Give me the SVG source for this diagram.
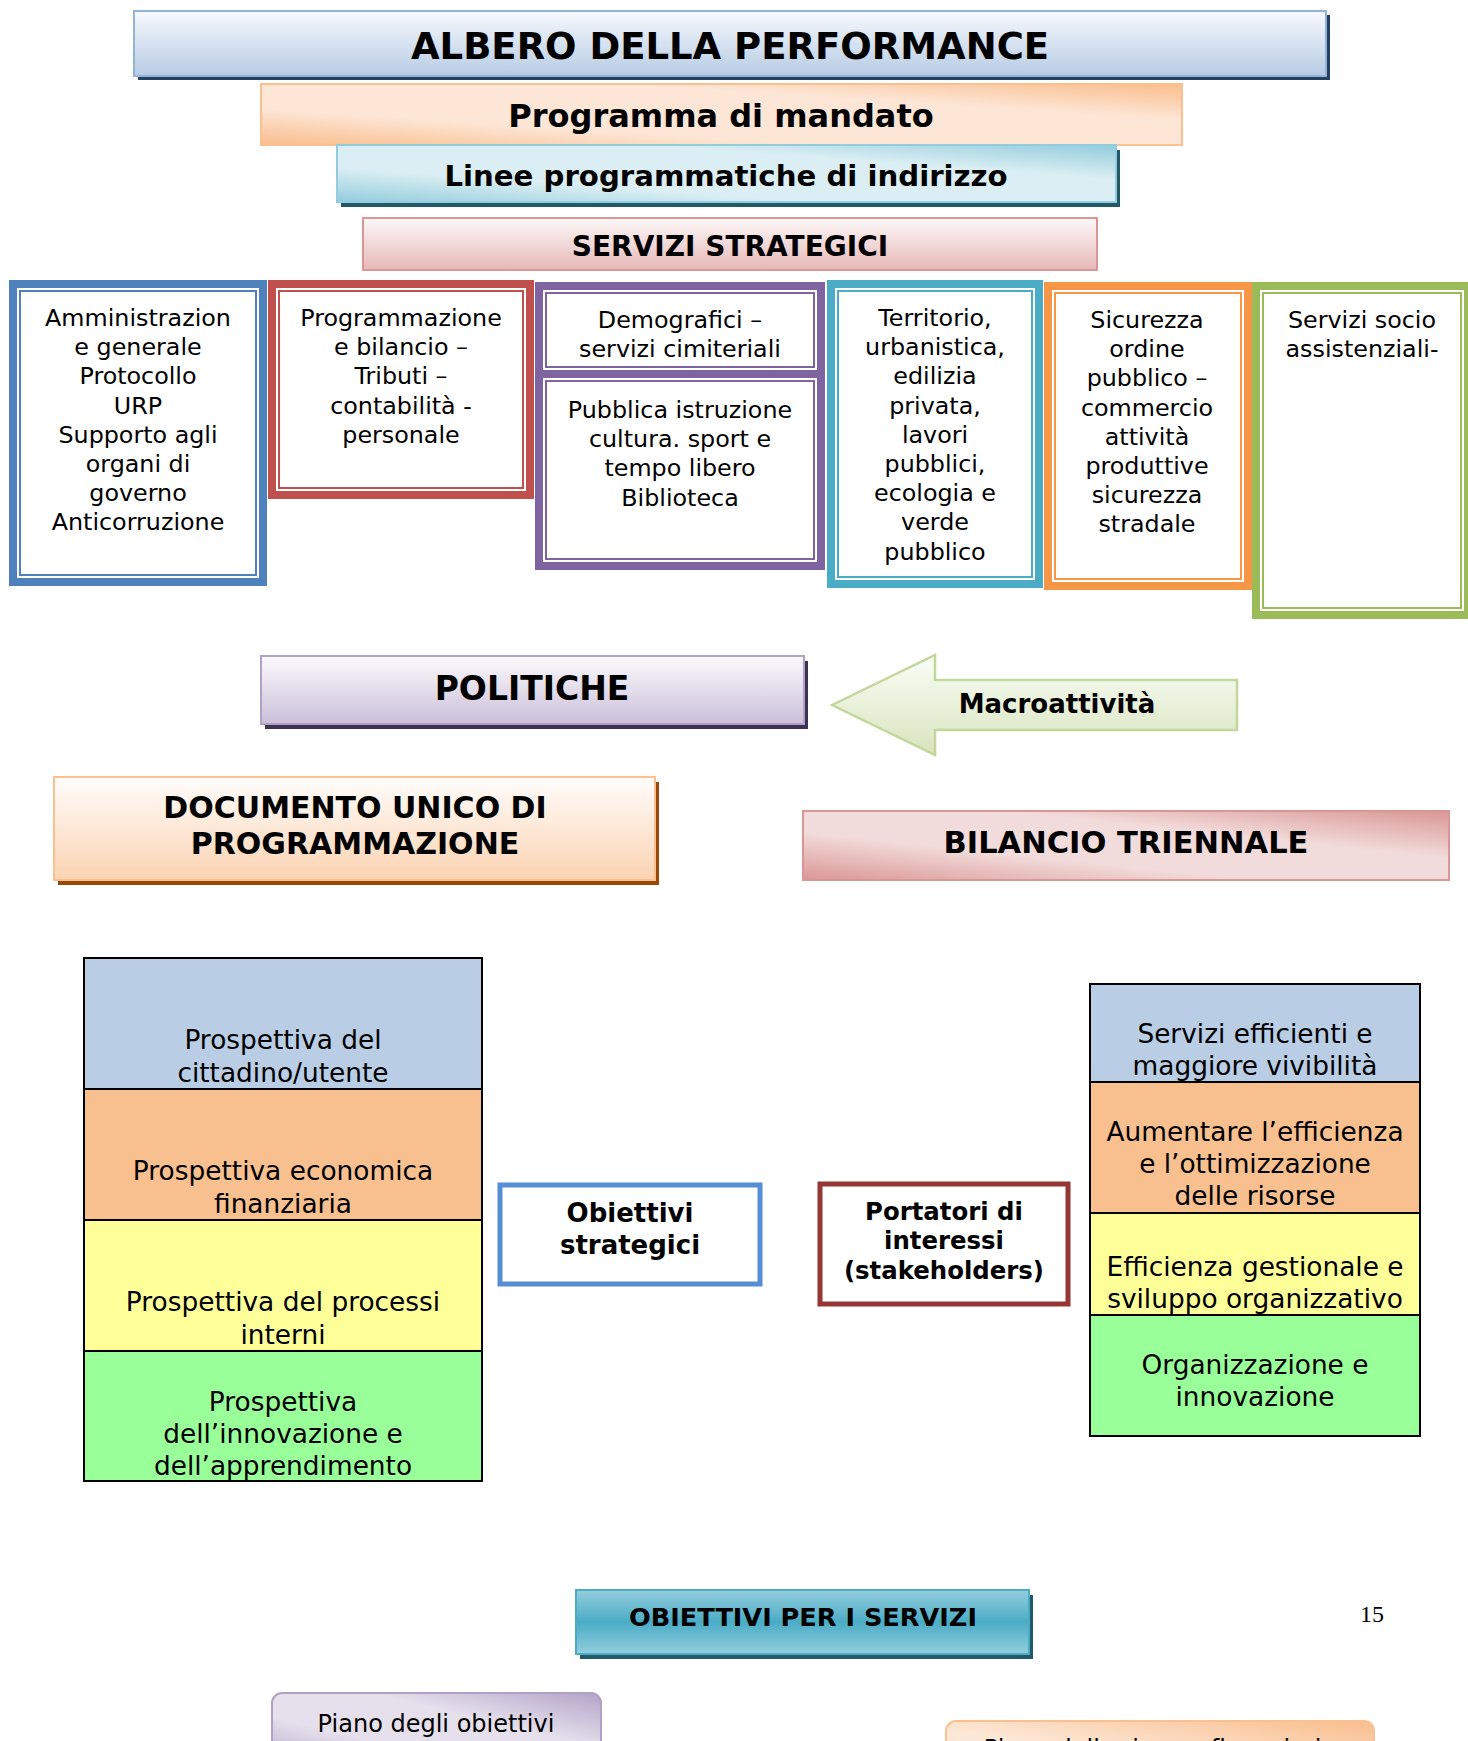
<svg xmlns="http://www.w3.org/2000/svg" width="1468" height="1741" viewBox="0 0 1468 1741">
<defs>
  <linearGradient id="gTitle" x1="0" y1="0" x2="0" y2="1">
    <stop offset="0" stop-color="#f7f9fd"/><stop offset="1" stop-color="#b7cbe4"/>
  </linearGradient>
  <linearGradient id="gProg" x1="0" y1="1" x2="1" y2="0">
    <stop offset="0" stop-color="#f9bd8c"/><stop offset="0.3" stop-color="#fde6d6"/><stop offset="0.7" stop-color="#fde6d6"/><stop offset="1" stop-color="#f9bd8c"/>
  </linearGradient>
  <linearGradient id="gLinee" x1="0" y1="1" x2="1" y2="0">
    <stop offset="0" stop-color="#92ccdc"/><stop offset="0.3" stop-color="#daeef3"/><stop offset="0.7" stop-color="#daeef3"/><stop offset="1" stop-color="#92ccdc"/>
  </linearGradient>
  <linearGradient id="gServ" x1="0" y1="0" x2="0" y2="1">
    <stop offset="0" stop-color="#fdf8f8"/><stop offset="1" stop-color="#e5b8b7"/>
  </linearGradient>
  <linearGradient id="gPol" x1="0" y1="0" x2="0" y2="1">
    <stop offset="0" stop-color="#fbfafd"/><stop offset="1" stop-color="#cbbfd9"/>
  </linearGradient>
  <linearGradient id="gArrow" x1="0" y1="0" x2="0" y2="1">
    <stop offset="0" stop-color="#fbfdf7"/><stop offset="1" stop-color="#d7e4bd"/>
  </linearGradient>
  <linearGradient id="gDoc" x1="0" y1="0" x2="0" y2="1">
    <stop offset="0" stop-color="#fffdfb"/><stop offset="1" stop-color="#fbd3b2"/>
  </linearGradient>
  <linearGradient id="gBil" x1="0" y1="1" x2="1" y2="0">
    <stop offset="0" stop-color="#d99694"/><stop offset="0.35" stop-color="#f2dcdb"/><stop offset="0.65" stop-color="#f2dcdb"/><stop offset="1" stop-color="#d99694"/>
  </linearGradient>
  <linearGradient id="gObs" x1="0" y1="0" x2="0" y2="1">
    <stop offset="0" stop-color="#93cddd"/><stop offset="0.5" stop-color="#4bacc6"/><stop offset="1" stop-color="#93cddd"/>
  </linearGradient>
  <linearGradient id="gPiano" x1="0" y1="1" x2="1" y2="0">
    <stop offset="0" stop-color="#b3a2c7"/><stop offset="0.35" stop-color="#e5e0ec"/><stop offset="0.65" stop-color="#e5e0ec"/><stop offset="1" stop-color="#b3a2c7"/>
  </linearGradient>
  <linearGradient id="gRis" x1="0" y1="1" x2="1" y2="0">
    <stop offset="0" stop-color="#fbd3b2"/><stop offset="0.4" stop-color="#fde9d9"/><stop offset="1" stop-color="#f9bd8c"/>
  </linearGradient>
</defs>
<style>
  .t{font-family:"DejaVu Sans",Verdana,"Liberation Sans",sans-serif;fill:#000;text-anchor:middle}
  .b{font-weight:bold}
  .svc{font-size:23.8px}
  .stk{font-size:26.4px}
  .ob{fill:#fff;stroke-width:8}
  .ib{fill:none;stroke-width:2}
  .band{stroke:#000;stroke-width:2}
</style>
<rect x="0" y="0" width="1468" height="1741" fill="#fff"/>

<g id="title">
  <rect x="138" y="15" width="1192" height="65" fill="#244062"/>
  <rect x="134" y="11" width="1192" height="65" fill="url(#gTitle)" stroke="#95b3d7" stroke-width="2"/>
  <text class="t b" x="730" y="59" font-size="37">ALBERO DELLA PERFORMANCE</text>
</g>
<g id="programma">
  <rect x="261" y="84" width="921" height="61" fill="url(#gProg)" stroke="#fac090" stroke-width="2"/>
  <text class="t b" x="721" y="127" font-size="32">Programma di mandato</text>
</g>
<g id="linee">
  <rect x="341" y="150" width="779" height="57" fill="#215968"/>
  <rect x="337" y="145" width="779" height="57" fill="url(#gLinee)" stroke="#93cddd" stroke-width="2"/>
  <text class="t b" x="726" y="186" font-size="29.2">Linee programmatiche di indirizzo</text>
</g>
<g id="servizi-strategici">
  <rect x="363" y="218" width="734" height="52" fill="url(#gServ)" stroke="#d99694" stroke-width="2"/>
  <text class="t b" x="730" y="256" font-size="28">SERVIZI STRATEGICI</text>
</g>

<g id="svc-amministrazione">
  <rect class="ob" x="13" y="284" width="250" height="298" stroke="#4f81bd"/>
  <rect class="ib" x="20" y="291" width="236" height="284" stroke="#4f81bd"/>
  <text class="t svc" x="138" y="326">Amministrazion<tspan x="138" dy="29.2">e generale</tspan><tspan x="138" dy="29.2">Protocollo</tspan><tspan x="138" dy="29.2">URP</tspan><tspan x="138" dy="29.2">Supporto agli</tspan><tspan x="138" dy="29.2">organi di</tspan><tspan x="138" dy="29.2">governo</tspan><tspan x="138" dy="29.2">Anticorruzione</tspan></text>
</g>
<g id="svc-programmazione">
  <rect class="ob" x="272" y="284" width="258" height="211" stroke="#c0504d"/>
  <rect class="ib" x="279" y="291" width="244" height="197" stroke="#c0504d"/>
  <text class="t svc" x="401" y="326">Programmazione<tspan x="401" dy="29.2">e bilancio –</tspan><tspan x="401" dy="29.2">Tributi –</tspan><tspan x="401" dy="29.2">contabilità -</tspan><tspan x="401" dy="29.2">personale</tspan></text>
</g>
<g id="svc-istruzione">
  <rect class="ob" x="539" y="374" width="282" height="192" stroke="#8064a2"/>
  <rect class="ib" x="546" y="381" width="268" height="178" stroke="#8064a2"/>
  <text class="t svc" x="680" y="418">Pubblica istruzione<tspan x="680" dy="29.2">cultura. sport e</tspan><tspan x="680" dy="29.2">tempo libero</tspan><tspan x="680" dy="29.2">Biblioteca</tspan></text>
</g>
<g id="svc-demografici">
  <rect class="ob" x="539" y="286" width="282" height="88" stroke="#8064a2"/>
  <rect class="ib" x="546" y="293" width="268" height="74" stroke="#8064a2"/>
  <text class="t svc" x="680" y="328">Demografici –<tspan x="680" dy="29.2">servizi cimiteriali</tspan></text>
</g>
<g id="svc-territorio">
  <rect class="ob" x="831" y="284" width="208" height="300" stroke="#4bacc6"/>
  <rect class="ib" x="838" y="291" width="194" height="286" stroke="#4bacc6"/>
  <text class="t svc" x="935" y="326">Territorio,<tspan x="935" dy="29.2">urbanistica,</tspan><tspan x="935" dy="29.2">edilizia</tspan><tspan x="935" dy="29.2">privata,</tspan><tspan x="935" dy="29.2">lavori</tspan><tspan x="935" dy="29.2">pubblici,</tspan><tspan x="935" dy="29.2">ecologia e</tspan><tspan x="935" dy="29.2">verde</tspan><tspan x="935" dy="29.2">pubblico</tspan></text>
</g>
<g id="svc-sicurezza">
  <rect class="ob" x="1048" y="286" width="200" height="300" stroke="#f79646"/>
  <rect class="ib" x="1055" y="293" width="186" height="286" stroke="#f79646"/>
  <text class="t svc" x="1147" y="328">Sicurezza<tspan x="1147" dy="29.2">ordine</tspan><tspan x="1147" dy="29.2">pubblico –</tspan><tspan x="1147" dy="29.2">commercio</tspan><tspan x="1147" dy="29.2">attività</tspan><tspan x="1147" dy="29.2">produttive</tspan><tspan x="1147" dy="29.2">sicurezza</tspan><tspan x="1147" dy="29.2">stradale</tspan></text>
</g>
<g id="svc-sociali">
  <rect class="ob" x="1256" y="286" width="212" height="329" stroke="#9bbb59"/>
  <rect class="ib" x="1263" y="293" width="198" height="315" stroke="#9bbb59"/>
  <text class="t svc" x="1362" y="328">Servizi socio<tspan x="1362" dy="29.2">assistenziali-</tspan></text>
</g>

<g id="politiche">
  <rect x="265" y="661" width="543" height="68" fill="#3f3151"/>
  <rect x="261" y="656" width="543" height="68" fill="url(#gPol)" stroke="#b2a1c7" stroke-width="2"/>
  <text class="t b" x="532" y="700" font-size="33">POLITICHE</text>
</g>
<g id="macroattivita">
  <polygon points="832,705 935,655 935,680 1237,680 1237,730 935,730 935,755" fill="url(#gArrow)" stroke="#c3d69b" stroke-width="2.5"/>
  <text class="t b" x="1057" y="713" font-size="26">Macroattività</text>
</g>
<g id="dup">
  <rect x="58" y="782" width="601" height="103" fill="#984807"/>
  <rect x="54" y="777" width="601" height="103" fill="url(#gDoc)" stroke="#fac090" stroke-width="2"/>
  <text class="t b" x="355" y="818" font-size="30">DOCUMENTO UNICO DI<tspan x="355" dy="36">PROGRAMMAZIONE</tspan></text>
</g>
<g id="bilancio">
  <rect x="803" y="811" width="646" height="69" fill="url(#gBil)" stroke="#d99694" stroke-width="2"/>
  <text class="t b" x="1126" y="853" font-size="30.5">BILANCIO TRIENNALE</text>
</g>

<g id="prospettive">
  <rect class="band" x="84" y="958" width="398" height="131" fill="#b9cde5"/>
  <rect class="band" x="84" y="1089" width="398" height="131" fill="#f8bf8f"/>
  <rect class="band" x="84" y="1220" width="398" height="131" fill="#ffff99"/>
  <rect class="band" x="84" y="1351" width="398" height="130" fill="#99ff99"/>
  <text class="t stk" x="283" y="1049">Prospettiva del<tspan x="283" dy="33">cittadino/utente</tspan></text>
  <text class="t stk" x="283" y="1180">Prospettiva economica<tspan x="283" dy="33">finanziaria</tspan></text>
  <text class="t stk" x="283" y="1311">Prospettiva del processi<tspan x="283" dy="33">interni</tspan></text>
  <text class="t stk" x="283" y="1411">Prospettiva<tspan x="283" dy="32">dell’innovazione e</tspan><tspan x="283" dy="32">dell’apprendimento</tspan></text>
</g>
<g id="obiettivi-strategici">
  <rect x="500" y="1185" width="260" height="99" fill="#fff" stroke="#558ed5" stroke-width="5"/>
  <text class="t b" x="630" y="1222" font-size="26">Obiettivi<tspan x="630" dy="32">strategici</tspan></text>
</g>
<g id="portatori">
  <rect x="820" y="1184" width="248" height="120" fill="#fff" stroke="#953735" stroke-width="5"/>
  <text class="t b" x="944" y="1220" font-size="24.4">Portatori di<tspan x="944" dy="29">interessi</tspan><tspan x="944" dy="30">(stakeholders)</tspan></text>
</g>
<g id="obiettivi-aree">
  <rect class="band" x="1090" y="984" width="330" height="98" fill="#b9cde5"/>
  <rect class="band" x="1090" y="1082" width="330" height="131" fill="#f8bf8f"/>
  <rect class="band" x="1090" y="1213" width="330" height="102" fill="#ffff99"/>
  <rect class="band" x="1090" y="1315" width="330" height="121" fill="#99ff99"/>
  <text class="t stk" x="1255" y="1043">Servizi efficienti e<tspan x="1255" dy="32">maggiore vivibilità</tspan></text>
  <text class="t stk" x="1255" y="1141">Aumentare l’efficienza<tspan x="1255" dy="32">e l’ottimizzazione</tspan><tspan x="1255" dy="32">delle risorse</tspan></text>
  <text class="t stk" x="1255" y="1276">Efficienza gestionale e<tspan x="1255" dy="32">sviluppo organizzativo</tspan></text>
  <text class="t stk" x="1255" y="1374">Organizzazione e<tspan x="1255" dy="32">innovazione</tspan></text>
</g>

<g id="obiettivi-servizi">
  <rect x="580" y="1595" width="453" height="64" fill="#215968"/>
  <rect x="576" y="1590" width="453" height="64" fill="url(#gObs)" stroke="#4bacc6" stroke-width="2"/>
  <text class="t b" x="803" y="1626" font-size="25.6">OBIETTIVI PER I SERVIZI</text>
</g>
<text x="1372" y="1622" font-family="'Liberation Serif','Times New Roman',serif" font-size="24" text-anchor="middle" fill="#000">15</text>

<g id="piano-obiettivi">
  <rect x="272" y="1693" width="329" height="80" rx="10" fill="url(#gPiano)" stroke="#b2a1c7" stroke-width="2"/>
  <text class="t" x="436" y="1732" font-size="24">Piano degli obiettivi</text>
</g>
<g id="piano-risorse">
  <rect x="946" y="1721" width="428" height="60" rx="10" fill="url(#gRis)" stroke="#fac090" stroke-width="2"/>
  <text class="t" x="1160" y="1757" font-size="24">Piano delle risorse finanziarie</text>
</g>
</svg>
